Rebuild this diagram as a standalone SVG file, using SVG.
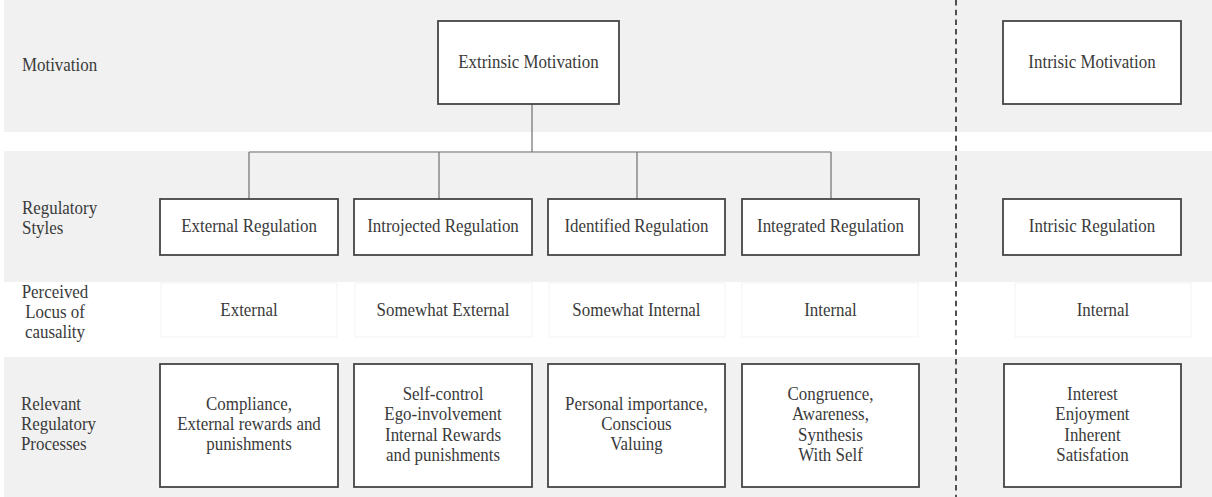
<svg xmlns="http://www.w3.org/2000/svg" width="1212" height="497" viewBox="0 0 1212 497">
  <style>
    .band { fill: #f1f1f1; }
    .box { fill: #ffffff; stroke: #454545; stroke-width: 1.8; }
    .cell { fill: #ffffff; stroke: #f3f3f3; stroke-width: 1; }
    /* slightly condensed serif: x positions are given in the scaled (x / 0.94) space */
    text { font-family: 'Liberation Serif', 'Times New Roman', serif; font-size: 18px; fill: #3a3a3a; transform: scale(0.94, 1); }
    .c { text-anchor: middle; }
    .conn { fill: none; stroke: #707070; stroke-width: 1.2; }
    .divider { stroke: #505050; stroke-width: 2; stroke-dasharray: 5.5 4.2; }
  </style>

  <!-- row bands -->
  <g id="bands">
    <rect class="band" x="4" y="0" width="1208" height="132"/>
    <rect class="band" x="4" y="151" width="1208" height="131"/>
    <rect class="band" x="4" y="357" width="1208" height="140"/>
  </g>

  <!-- row labels -->
  <g id="row-labels">
    <text x="23.4" y="71.5">Motivation</text>
    <text x="23.4" y="214">Regulatory</text>
    <text x="23.4" y="234">Styles</text>
    <text class="c" x="58.5" y="298.5">Perceived</text>
    <text class="c" x="58.5" y="318.5">Locus of</text>
    <text class="c" x="58.5" y="338.5">causality</text>
    <text x="22.3" y="410">Relevant</text>
    <text x="22.3" y="430">Regulatory</text>
    <text x="22.3" y="450">Processes</text>
  </g>

  <!-- connectors -->
  <g id="connectors">
    <path class="conn" d="M532 104 V152 M249 152 H831 M249 152 V199 M439 152 V199 M637 152 V199 M831 152 V199"/>
  </g>

  <!-- extrinsic / intrinsic divider -->
  <line class="divider" x1="956" y1="0" x2="956" y2="497"/>

  <!-- motivation row -->
  <g id="extrinsic-motivation">
    <rect class="box" x="438" y="21" width="181" height="83"/>
    <text class="c" x="562.2" y="68.5">Extrinsic Motivation</text>
  </g>
  <g id="intrinsic-motivation">
    <rect class="box" x="1003" y="21" width="178" height="83"/>
    <text class="c" x="1161.7" y="68.5">Intrisic Motivation</text>
  </g>

  <!-- regulatory styles row -->
  <g id="external-regulation">
    <rect class="box" x="160" y="199" width="178" height="56"/>
    <text class="c" x="264.9" y="232.5">External Regulation</text>
  </g>
  <g id="introjected-regulation">
    <rect class="box" x="354" y="199" width="178" height="56"/>
    <text class="c" x="471.3" y="232.5">Introjected Regulation</text>
  </g>
  <g id="identified-regulation">
    <rect class="box" x="548" y="199" width="177" height="56"/>
    <text class="c" x="677.1" y="232.5">Identified Regulation</text>
  </g>
  <g id="integrated-regulation">
    <rect class="box" x="742" y="199" width="177" height="56"/>
    <text class="c" x="883.5" y="232.5">Integrated Regulation</text>
  </g>
  <g id="intrinsic-regulation">
    <rect class="box" x="1003" y="199" width="178" height="56"/>
    <text class="c" x="1161.7" y="232.5">Intrisic Regulation</text>
  </g>

  <!-- perceived locus of causality row -->
  <g id="locus-external">
    <rect class="cell" x="161" y="283" width="176" height="54"/>
    <text class="c" x="264.9" y="316.5">External</text>
  </g>
  <g id="locus-somewhat-external">
    <rect class="cell" x="355" y="283" width="177" height="54"/>
    <text class="c" x="471.3" y="316.5">Somewhat External</text>
  </g>
  <g id="locus-somewhat-internal">
    <rect class="cell" x="549" y="283" width="176" height="54"/>
    <text class="c" x="677.1" y="316.5">Somewhat Internal</text>
  </g>
  <g id="locus-internal">
    <rect class="cell" x="742" y="283" width="176" height="54"/>
    <text class="c" x="883.5" y="316.5">Internal</text>
  </g>
  <g id="locus-intrinsic">
    <rect class="cell" x="1015" y="283" width="176" height="54"/>
    <text class="c" x="1173.4" y="316.5">Internal</text>
  </g>

  <!-- relevant regulatory processes row -->
  <g id="process-external">
    <rect class="box" x="160" y="364" width="178" height="123"/>
    <text class="c" x="264.9" y="410.5">Compliance,</text>
    <text class="c" x="264.9" y="430.5">External rewards and</text>
    <text class="c" x="264.9" y="450.5">punishments</text>
  </g>
  <g id="process-introjected">
    <rect class="box" x="354" y="364" width="178" height="123"/>
    <text class="c" x="471.3" y="400">Self-control</text>
    <text class="c" x="471.3" y="420.5">Ego-involvement</text>
    <text class="c" x="471.3" y="441">Internal Rewards</text>
    <text class="c" x="471.3" y="461">and punishments</text>
  </g>
  <g id="process-identified">
    <rect class="box" x="548" y="364" width="177" height="123"/>
    <text class="c" x="677.1" y="410.5">Personal importance,</text>
    <text class="c" x="677.1" y="430.5">Conscious</text>
    <text class="c" x="677.1" y="450.5">Valuing</text>
  </g>
  <g id="process-integrated">
    <rect class="box" x="742" y="364" width="177" height="123"/>
    <text class="c" x="883.5" y="400">Congruence,</text>
    <text class="c" x="883.5" y="420.5">Awareness,</text>
    <text class="c" x="883.5" y="441">Synthesis</text>
    <text class="c" x="883.5" y="461">With Self</text>
  </g>
  <g id="process-intrinsic">
    <rect class="box" x="1004" y="364" width="177" height="123"/>
    <text class="c" x="1162.2" y="400">Interest</text>
    <text class="c" x="1162.2" y="420.5">Enjoyment</text>
    <text class="c" x="1162.2" y="441">Inherent</text>
    <text class="c" x="1162.2" y="461">Satisfation</text>
  </g>
</svg>
